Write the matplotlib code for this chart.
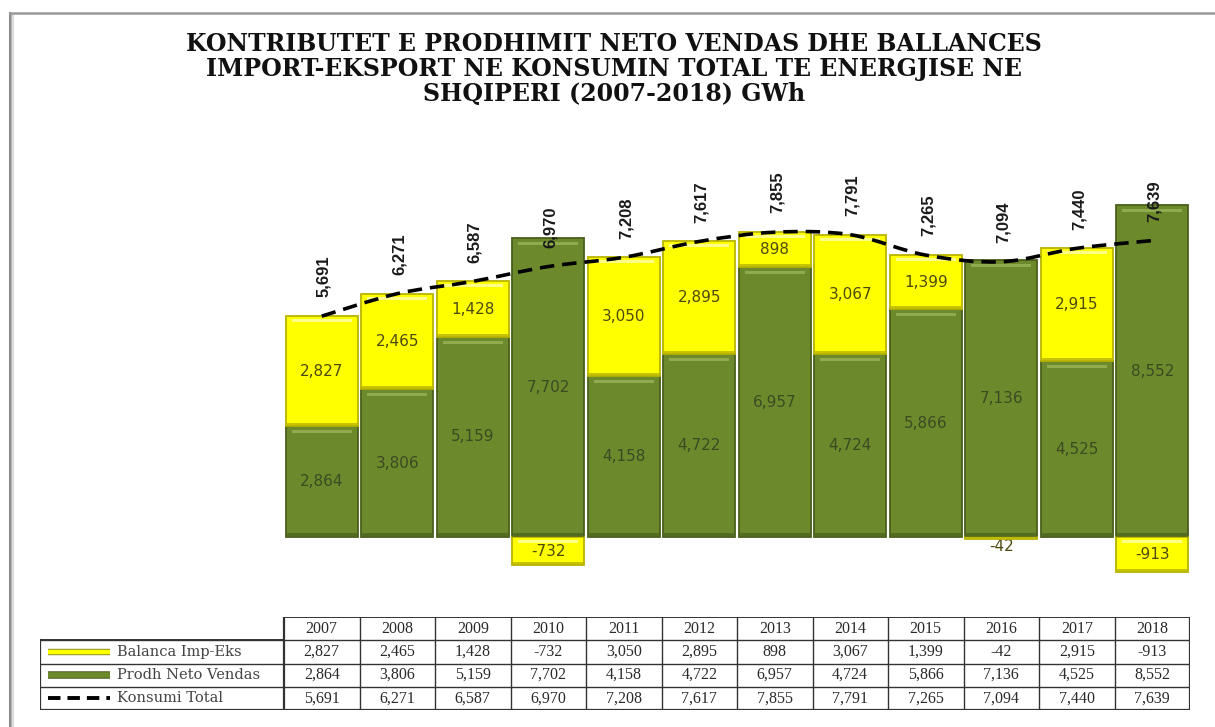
import matplotlib
matplotlib.use("Agg")
import matplotlib.pyplot as plt
from matplotlib.path import Path
from matplotlib.patches import PathPatch
import matplotlib.patheffects as pe

years = ["2007", "2008", "2009", "2010", "2011", "2012", "2013", "2014", "2015", "2016", "2017", "2018"]
balanca = [2827, 2465, 1428, -732, 3050, 2895, 898, 3067, 1399, -42, 2915, -913]
prodh = [2864, 3806, 5159, 7702, 4158, 4722, 6957, 4724, 5866, 7136, 4525, 8552]
konsumi = [5691, 6271, 6587, 6970, 7208, 7617, 7855, 7791, 7265, 7094, 7440, 7639]
series_names = ["Balanca Imp-Eks", "Prodh Neto Vendas", "Konsumi Total"]
title_lines = ["KONTRIBUTET E PRODHIMIT NETO VENDAS DHE BALLANCES",
               "IMPORT-EKSPORT NE KONSUMIN TOTAL TE ENERGJISE NE",
               "SHQIPERI (2007-2018) GWh"]

W, H = 1215, 727
fig = plt.figure(figsize=(W / 100, H / 100), dpi=100)
fig.patch.set_facecolor("white")

def fx(px):
    return px / W

def fy(py):
    return 1 - py / H

GREEN = "#6c8a2b"
GREEN_DARK = "#4a5f1c"
GREEN_LIGHT = "#9ab457"
YELLOW = "#ffff00"
YELLOW_DARK = "#b8b400"
YELLOW_LIGHT = "#ffff9a"

# frame (soft gray border on left and top)
for off, col in [(0, "#8c8c8c"), (1.5, "#b4b4b4"), (3, "#dcdcdc")]:
    fig.add_artist(plt.Line2D([fx(10 + off), fx(10 + off)], [fy(13 + off), 0], color=col, lw=1.5))
fig.add_artist(plt.Line2D([fx(10), 1], [fy(13), fy(13)], color="#9a9a9a", lw=1.8))

# title
for k, line in enumerate(title_lines):
    fig.text(fx(614), fy(44 + 24.8 * k), line, ha="center", va="center",
             fontsize=17, fontweight="bold", family="DejaVu Serif", color="#111111")

# main axes
ax = fig.add_axes([fx(284), fy(590), 906 / W, 430 / H])
ax.set_xlim(-0.5, 11.5)
ax.set_ylim(-1366, 9716)
ax.axis("off")
PX = (9716 + 1366) / 430.0  # data units per pixel

x = list(range(len(years)))
bw = 0.95

# green bars
ax.bar(x, prodh, width=bw, color=GREEN, edgecolor=GREEN_DARK, linewidth=1.3, zorder=2)
# yellow bars
ybottom = [p if b >= 0 else 0 for p, b in zip(prodh, balanca)]
ax.bar(x, balanca, bottom=ybottom, width=bw, color=YELLOW, edgecolor=YELLOW_DARK,
       linewidth=1.3, zorder=2)
# bevel highlights / shadows
for i in x:
    gtop = prodh[i]
    ax.bar(i, 3 * PX, bottom=gtop - 7 * PX, width=bw * 0.84, color=GREEN_LIGHT,
           linewidth=0, zorder=3, alpha=0.8)
    ax.bar(i, 4 * PX, bottom=0, width=bw, color="#4f651f",
           linewidth=0, zorder=3, alpha=0.8)
    b = balanca[i]
    if abs(b) > 200:
        top = ybottom[i] + b if b > 0 else 0
        ax.bar(i, 3 * PX, bottom=top - 6 * PX, width=bw * 0.84, color=YELLOW_LIGHT,
               linewidth=0, zorder=3, alpha=0.9)
        bot = ybottom[i] if b > 0 else b
        ax.bar(i, 3 * PX, bottom=bot, width=bw, color=YELLOW_DARK,
               linewidth=0, zorder=3, alpha=0.8)

# segment labels
for i in x:
    ax.text(i, prodh[i] / 2, f"{prodh[i]:,}", ha="center", va="center", fontsize=11,
            color="#3c4a24", zorder=4)
    b = balanca[i]
    if b >= 0:
        yc = ybottom[i] + b / 2
        ax.text(i, yc, f"{b:,}", ha="center", va="center", fontsize=11,
                color="#4d4a10", zorder=4)
    elif abs(b) > 200:
        ax.text(i, b / 2, f"{b:,}", ha="center", va="center", fontsize=11,
                color="#4d4a10", zorder=4)
    else:
        ax.annotate(f"{b:,}", (i, b / 2), xytext=(0, -6), textcoords="offset points",
                    ha="center", va="center", fontsize=11, color="#4d4a10", zorder=1)

# smooth dashed total line (Catmull-Rom through the data points)
pts = list(zip(x, konsumi))
verts = [pts[0]]
codes = [Path.MOVETO]
n = len(pts)
for i in range(n - 1):
    p0 = pts[i - 1] if i > 0 else pts[i]
    p1 = pts[i]
    p2 = pts[i + 1]
    p3 = pts[i + 2] if i + 2 < n else pts[i + 1]
    c1 = (p1[0] + (p2[0] - p0[0]) / 6.0, p1[1] + (p2[1] - p0[1]) / 6.0)
    c2 = (p2[0] - (p3[0] - p1[0]) / 6.0, p2[1] - (p3[1] - p1[1]) / 6.0)
    verts += [c1, c2, p2]
    codes += [Path.CURVE4, Path.CURVE4, Path.CURVE4]
ax.add_patch(PathPatch(Path(verts, codes), fill=False, edgecolor="black", lw=2.6,
                       linestyle=(0, (4, 2.2)), zorder=5, capstyle="butt"))

for i in x:
    ax.annotate(f"{konsumi[i]:,}", (i, konsumi[i]), xytext=(1.5, 13.5),
                textcoords="offset points", rotation=90, ha="center", va="bottom",
                fontsize=12, fontweight="bold", family="Liberation Sans",
                color="#1a1a1a", zorder=6)

# data table
tx0 = -0.5 - (284 - 40) / 75.5
tax = fig.add_axes([fx(40), fy(710), (1190 - 40) / W, 93 / H])
tax.set_xlim(tx0, 11.5)
tax.set_ylim(0, 4)
tax.axis("off")
lc = "#333333"
for yy in [1, 2, 3]:
    tax.plot([tx0, 11.5], [yy, yy], color=lc, lw=1.0)
tax.plot([tx0, 11.5], [0, 0], color=lc, lw=1.6)
tax.plot([-0.5, 11.5], [4, 4], color=lc, lw=1.4)
tax.plot([tx0, tx0], [0, 3], color=lc, lw=1.6)
for k in range(13):
    tax.plot([k - 0.5, k - 0.5], [0, 4], color=lc, lw=1.6 if k in (0, 12) else 1.0)
tax.plot([tx0, -0.5], [3, 3], color=lc, lw=1.4)

tfont = dict(family="Liberation Serif", fontsize=11.5, color="#2a2a2a", ha="center", va="center")
rows = [balanca, prodh, konsumi]
for i in x:
    tax.text(i, 3.5, years[i], **tfont)
    for r, vals in enumerate(rows):
        tax.text(i, 2.5 - r, f"{vals[i]:,}", **tfont)

kx0 = -0.5 - (284 - 48) / 75.5
kx1 = -0.5 - (284 - 110) / 75.5
ktx = -0.5 - (284 - 117) / 75.5
tax.plot([kx0, kx1], [2.5, 2.5], color=YELLOW, lw=3.2, solid_capstyle="butt",
         path_effects=[pe.Stroke(linewidth=4.6, foreground="#8a8a20"), pe.Normal()])
tax.plot([kx0, kx1], [1.5, 1.5], color=GREEN, lw=4.0, solid_capstyle="butt",
         path_effects=[pe.Stroke(linewidth=5.4, foreground=GREEN_DARK), pe.Normal()])
tax.plot([kx0, kx1], [0.5, 0.5], color="black", lw=2.8, linestyle=(0, (3.2, 1.8)),
         solid_capstyle="butt")
for r, name in enumerate(series_names):
    tax.text(ktx, 2.5 - r, name, family="DejaVu Serif", fontsize=10.5,
             color="#444444", ha="left", va="center")

fig.savefig("out.png", dpi=100, facecolor="white")
